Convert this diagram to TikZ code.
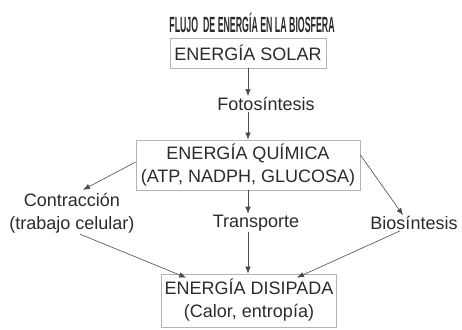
\documentclass[tikz,border=0pt]{standalone}
\usepackage{fontspec}
\setmainfont{Liberation Sans}
\usetikzlibrary{arrows.meta}
\usetikzlibrary{positioning}

\definecolor{texto}{HTML}{2B2B2B}
\definecolor{borde}{HTML}{B4B4B4}
\definecolor{linea}{HTML}{4A4A4A}

\tikzset{
  caja/.style = {draw = borde, line width = 0.8pt, align = center,
    inner sep = 0pt},
  etiqueta/.style = {align = center, inner sep = 1pt},
  flecha/.style = {draw = linea, line width = 0.6pt,
    -{Latex[length = 7pt, width = 5.5pt]}}
}

\begin{document}
\begin{tikzpicture}[x = 1pt, y = -1pt, text = texto,
  font = \fontsize{18}{23}\selectfont]
  \useasboundingbox (0, 0) rectangle (462, 329);

  \node (titulo) at (252, 23) {\scalebox{0.40}[1]{\fontsize{22}{22}\selectfont\bfseries
    FLUJO\ \ DE ENERGÍA EN LA BIOSFERA}};

  \node[caja, minimum width = 156pt, minimum height = 30pt] (solar) at (248, 53)
    {ENERGÍA SOLAR};
  \node[etiqueta] (foto) at (266, 104) {Fotosíntesis};
  \node[caja, minimum width = 224pt, minimum height = 50pt] (quimica) at (248, 165)
    {ENERGÍA QUÍMICA\\(ATP, NADPH, GLUCOSA)};

  \node[etiqueta] (contr) at (72, 213) {Contracción\\(trabajo celular)};
  \node[etiqueta] (transp) at (256, 223) {Transporte};
  \node[etiqueta] (bios) at (414, 223) {Biosíntesis};

  \node[caja, minimum width = 175pt, minimum height = 53pt] (disip) at (249, 300.5)
    {ENERGÍA DISIPADA\\(Calor, entropía)};

  \draw[flecha] (solar.south) -- (solar.south |- foto.north);
  \draw[flecha] (quimica.north |- foto.south) -- (quimica.north);

  \draw[flecha] ([yshift = 3pt]quimica.west) -- ([xshift = 11pt, yshift = 2pt]contr.north);
  \draw[flecha] (quimica.south) -- (quimica.south |- transp.north);
  \draw[flecha] ([yshift = 10pt]quimica.east) -- ([xshift = -11pt]bios.north);

  \draw[flecha] ([xshift = 8pt]contr.south) -- ([xshift = 25pt, yshift = -4pt]disip.north west);
  \draw[flecha] (quimica.south |- transp.south) -- (quimica.south |- disip.north);
  \draw[flecha] ([xshift = -14pt]bios.south) -- ([xshift = -40pt, yshift = -4pt]disip.north east);
\end{tikzpicture}
\end{document}
